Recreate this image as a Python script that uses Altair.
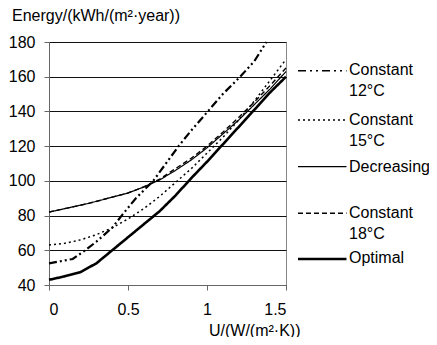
import altair as alt
import pandas as pd

# ---- data ----
opt_u = [0.0, 0.1, 0.2, 0.3, 0.4, 0.5, 0.6, 0.7, 0.8, 0.9, 1.0, 1.1, 1.2, 1.3, 1.4, 1.5]
opt_e = [43, 45, 47.5, 52.5, 60, 67.5, 75, 82.5, 91.5, 101.5, 111, 121, 131, 141, 151, 160]

dec_u = [0.0, 0.25, 0.5, 0.6, 0.7, 0.8, 0.9, 1.0, 1.1, 1.2, 1.3, 1.4, 1.5]
dec_e = [82, 87, 93, 96.5, 100.5, 106, 112, 119, 127, 135, 144, 153, 163]

c18_u = [0.0, 0.25, 0.5, 0.6, 0.7, 0.8, 0.9, 1.0, 1.1, 1.2, 1.3, 1.4, 1.5]
c18_e = [82, 87, 93, 96.5, 101, 107, 113, 120, 128, 136.5, 145.5, 155, 165]

c15_u = [0.0, 0.1, 0.2, 0.3, 0.4, 0.5, 0.6, 0.7, 0.8, 0.9, 1.0, 1.1, 1.2, 1.3, 1.4, 1.5]
c15_e = [63, 64, 66, 69, 73, 78, 84, 91, 99, 107, 116, 125, 135, 146, 158, 170]

c12_u = [0.0, 0.15, 0.23, 0.3, 0.4, 0.46, 0.55, 0.66, 0.82, 0.9, 1.005, 1.1, 1.21, 1.3, 1.376]
c12_e = [52.5, 55, 60, 65, 73, 80, 90, 100, 120, 129, 140, 150, 160, 169, 180]

series_names = ["Constant\n12°C", "Constant\n15°C", "Decreasing", "Constant\n18°C", "Optimal"]
y_ticks = [40, 60, 80, 100, 120, 140, 160, 180]
x_ticks = [0, 0.5, 1, 1.5]

rows = []
for name, us, es in [
    (series_names[0], c12_u, c12_e),
    (series_names[1], c15_u, c15_e),
    (series_names[2], dec_u, dec_e),
    (series_names[3], c18_u, c18_e),
    (series_names[4], opt_u, opt_e),
]:
    for u, e in zip(us, es):
        rows.append({"series": name, "U": u, "E": e})
df = pd.DataFrame(rows)

styles = {
    series_names[0]: dict(strokeWidth=2.2, strokeDash=[8, 3, 2, 3, 2, 3]),
    series_names[1]: dict(strokeWidth=1.5, strokeDash=[2, 3]),
    series_names[2]: dict(strokeWidth=1.2, strokeDash=[1, 0]),
    series_names[3]: dict(strokeWidth=1.4, strokeDash=[5, 3]),
    series_names[4]: dict(strokeWidth=2.6, strokeDash=[1, 0]),
}
legend_styles = dict(styles)
legend_styles[series_names[0]] = dict(strokeWidth=1.4, strokeDash=[8, 4, 2, 4, 2, 4])

FONT = "Liberation Sans"
FS = 16

xenc = alt.X(
    "U:Q",
    scale=alt.Scale(domain=[0, 1.5], nice=False),
    axis=alt.Axis(
        values=x_ticks, format=".1~f", tickSize=5, labelPadding=11,
        grid=False, title="U/(W/(m²·K))", titleX=251, titleY=50,
        titleAlign="right", titleBaseline="alphabetic",
    ),
)
yenc = alt.Y(
    "E:Q",
    scale=alt.Scale(domain=[40, 180], nice=False),
    axis=alt.Axis(
        values=y_ticks, tickSize=5, labelPadding=9, grid=True,
        gridColor="#111", gridWidth=1,
        title="Energy/(kWh/(m²·year))", titleAngle=0, titleAlign="left",
        titleBaseline="alphabetic", titleX=-37.5, titleY=-22,
    ),
)

layers = []
for name in series_names:
    layers.append(
        alt.Chart(df[df["series"] == name])
        .mark_line(color="black", **styles[name])
        .encode(x=xenc, y=yenc)
    )

# legend (drawn beside the plot)
leg_y = [28.7, 78, 124.7, 171.3, 217]
leg_text_y = [28, 78, 125, 170.5, 216]
for name, ly, ty in zip(series_names, leg_y, leg_text_y):
    layers.append(
        alt.Chart(pd.DataFrame({"series": [name]}))
        .mark_rule(color="black", **legend_styles[name])
        .encode(x=alt.value(249), x2=alt.value(297.5), y=alt.value(ly))
    )
    layers.append(
        alt.Chart(pd.DataFrame({"series": [name]}))
        .mark_text(align="left", baseline="middle", font=FONT, fontSize=FS,
                   color="black", lineBreak="\n", lineHeight=21)
        .encode(x=alt.value(300), y=alt.value(ty), text="series:N")
    )

chart = (
    alt.layer(*layers)
    .properties(
        width=237, height=243,
        padding={"left": 41, "top": 34, "right": 143, "bottom": 52},
        autosize=alt.AutoSizeParams(type="none"),
    )
    .configure_view(stroke="#888", strokeWidth=1)
    .configure_axis(
        labelFont=FONT, titleFont=FONT, labelFontSize=FS, titleFontSize=FS,
        labelColor="black", titleColor="black", titleFontWeight="normal",
        domainColor="#666", tickColor="#666",
    )
)

chart.save("out.html", embed_options={"renderer": "svg", "actions": False})
